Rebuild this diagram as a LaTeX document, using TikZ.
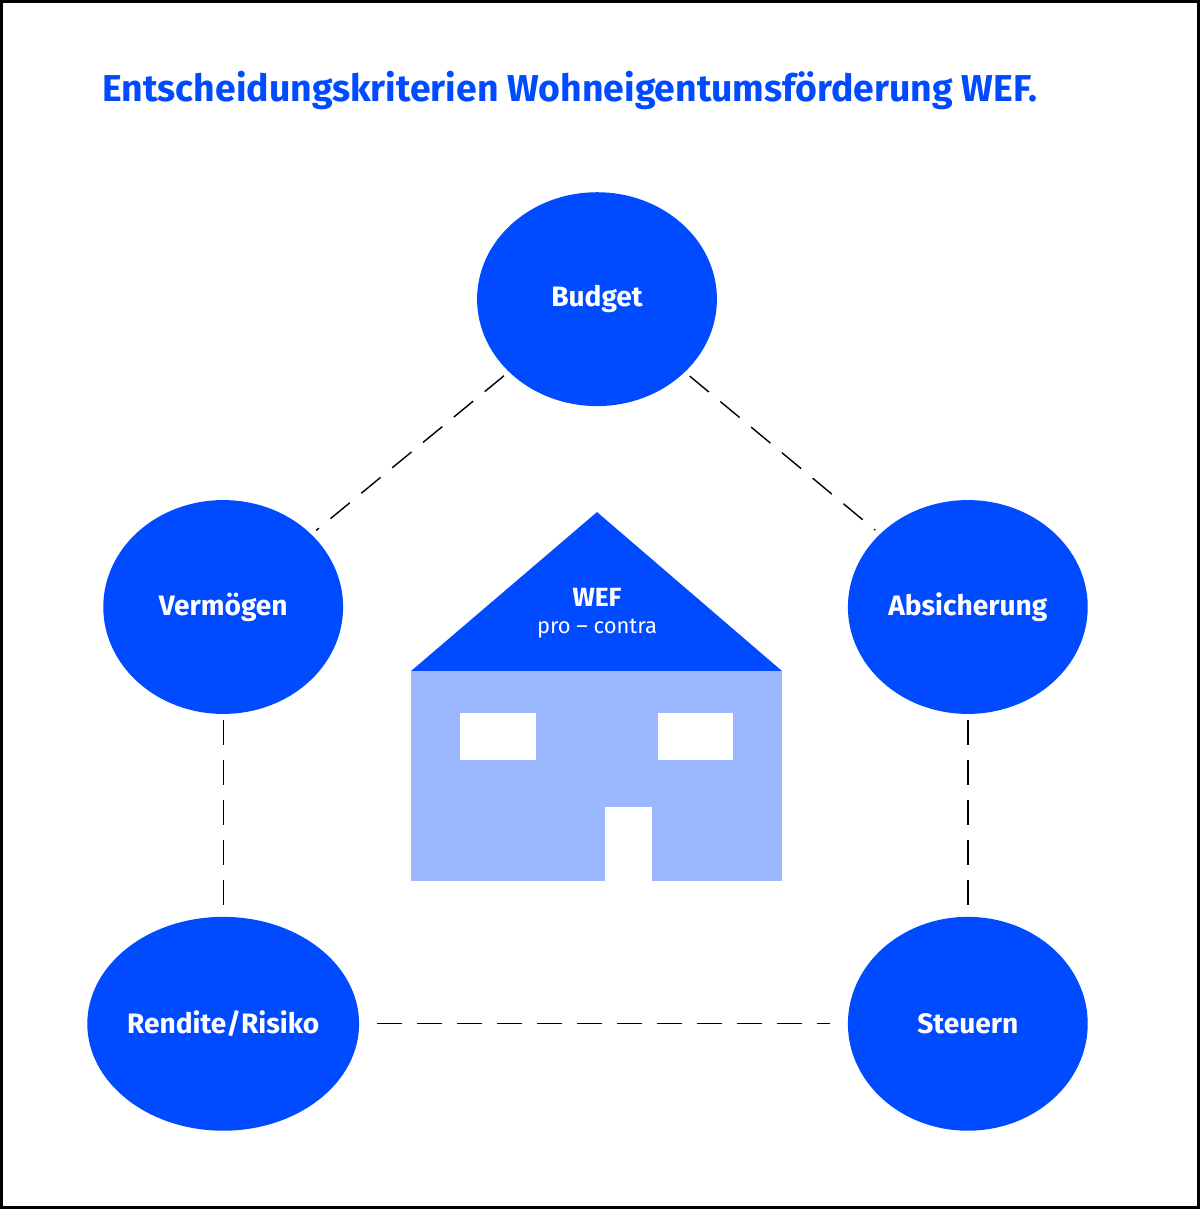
\documentclass[tikz,border=0pt]{standalone}
\usepackage{fontspec}
\setmainfont{Fira Sans}
\usetikzlibrary{shapes.geometric}
\definecolor{wefblue}{HTML}{004BFF}
\definecolor{weflight}{HTML}{9BB8FF}
\begin{document}
\begin{tikzpicture}[x=0.02cm, y=-0.02cm,
    crit node/.style={ellipse, fill=wefblue, text=white, inner sep=0pt, minimum width=4.8cm, minimum height=4.28cm, font=\fontsize{16}{19}\selectfont\bfseries},
    link/.style={dashed, dash pattern=on 0.5cm off 0.3cm, thick, shorten <=0.12cm, shorten >=0.12cm}
]
% Frame
\draw[line width=1.5pt, fill=white] (1,1) rectangle (1199,1208);
\node[anchor=west, text=wefblue, font=\fontsize{21.3}{25}\selectfont\bfseries] (title) at (96,90) {Entscheidungskriterien Wohneigentumsförderung WEF.};

% Criteria
\node[crit node] (budget) at (597,299) {Budget};
\node[crit node] (verm) at (223,607) {Vermögen};
\node[crit node] (absi) at (968,607) {Absicherung};
\node[crit node] (rend) at (223,1024) {Rendite/Risiko};
\node[crit node] (steu) at (968,1024) {Steuern};

% Dashed links
\draw[link] (budget) -- (verm);
\draw[link] (budget) -- (absi);
\draw[link] (verm) -- (rend);
\draw[link] (absi) -- (steu);
\draw[link, shorten <=0.35cm, shorten >=0.35cm] (rend) -- (steu);

% House
\fill[wefblue] (411,671) -- (597,512) -- (782,671) -- cycle;
\fill[weflight] (411,671) rectangle (782,881);
\fill[white] (460,713) rectangle (536,760);
\fill[white] (658,713) rectangle (733,760);
\fill[white] (605,807) rectangle (652,882);
\node[text=white, font=\fontsize{15}{18}\selectfont\bfseries] (wef) at (597,597) {WEF};
\node[text=white, font=\fontsize{12.5}{15}\selectfont] (pro) at (597,629) {pro – contra};
\end{tikzpicture}
\end{document}
